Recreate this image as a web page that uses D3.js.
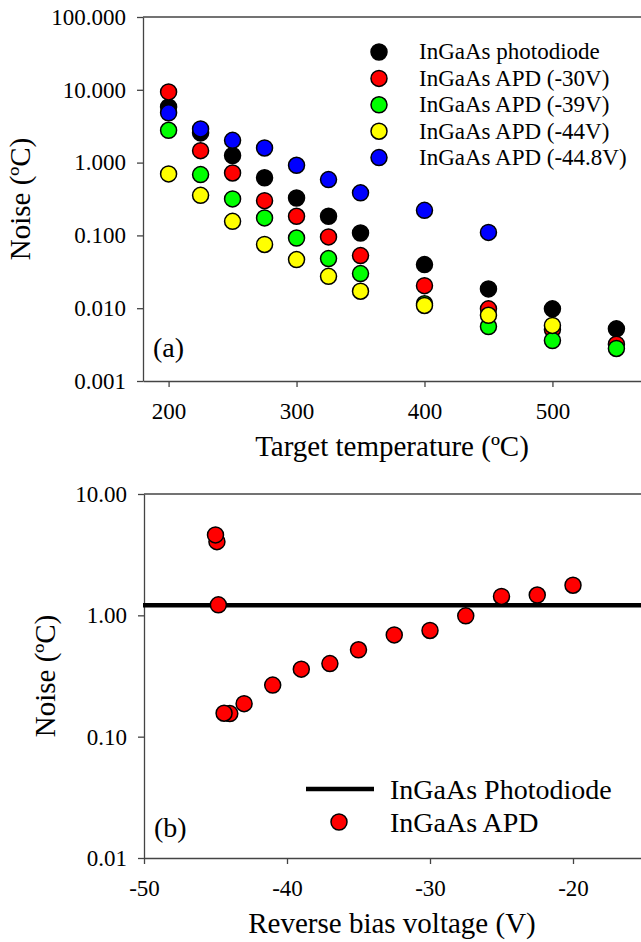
<!DOCTYPE html>
<html>
<head>
<meta charset="utf-8">
<script src="https://cdn.jsdelivr.net/npm/d3@7"></script>
<style>
  body { margin: 0; background: #fff; }
  svg text { font-family: "Liberation Serif", "Times New Roman", serif; fill: #000; }
</style>
</head>
<body>
<div id="container"></div>
<script>
/* DATA - panel (a) */
const temps = [200, 225, 250, 275, 300, 325, 350, 400, 450, 500, 550];
const photodiode = [5.8, 2.56, 1.25, 0.62, 0.327, 0.183, 0.108, 0.0397, 0.0184, 0.0098, 0.0052];
const apd30 = [9.36, 1.46, 0.72, 0.30, 0.183, 0.0953, 0.0528, 0.0204, 0.0098, 0.0051, 0.0032];
const apd39 = [2.78, 0.684, 0.317, 0.174, 0.092, 0.048, 0.0299, 0.0115, 0.0056, 0.0036, 0.0028];
const apd44 = [0.70, 0.355, 0.156, 0.075, 0.0465, 0.0274, 0.0171, 0.0109, 0.0080, 0.0058, null];
const apd448 = [4.82, 2.90, 2.02, 1.59, 0.918, 0.584, 0.384, 0.221, 0.110, null, null];
const seriesNames = ["InGaAs photodiode", "InGaAs APD (-30V)", "InGaAs APD (-39V)", "InGaAs APD (-44V)", "InGaAs APD (-44.8V)"];
const seriesColors = ["#000000", "#ff0000", "#00ff00", "#ffff00", "#0000ff"];
const tempTicks = [200, 300, 400, 500];
const noiseTicksA = [0.001, 0.01, 0.1, 1, 10, 100];

/* DATA - panel (b) */
const biasVoltage = [-20.0, -22.5, -25.0, -27.5, -30.0, -32.5, -35.0, -37.0, -39.0, -41.0, -43.0, -44.0, -44.4, -44.8, -44.9, -45.0];
const apdNoise = [1.77, 1.47, 1.43, 0.99, 0.75, 0.69, 0.52, 0.40, 0.36, 0.266, 0.187, 0.155, 0.156, 1.22, 4.05, 4.6];
const photodiodeLevel = 1.21;
const biasTicks = [-50, -40, -30, -20];
const noiseTicksB = [0.01, 0.1, 1, 10];
const legendB = ["InGaAs Photodiode", "InGaAs APD"];

/* CONSTANTS */
const W = 641, H = 942;
const R = 8;

const svg = d3.select("#container")
  .append("svg")
  .attr("width", W)
  .attr("height", H);

/* ---------- PANEL (a) ---------- */
const xA = d3.scaleLinear().domain([180, 570]).range([143, 642]);
const yA = d3.scaleLog().domain([0.001, 100]).range([381, 17]);

// frame top line
svg.append("line")
  .attr("x1", xA.range()[0]).attr("x2", W)
  .attr("y1", yA(100)).attr("y2", yA(100))
  .attr("stroke", "#444").attr("stroke-width", 1.3);

svg.append("g")
  .attr("transform", "translate(0," + yA(0.001) + ")")
  .call(d3.axisBottom(xA).tickValues(tempTicks).tickFormat(String).tickSize(6).tickSizeOuter(0).tickPadding(16));

svg.append("g")
  .attr("transform", "translate(" + xA(180) + ",0)")
  .call(d3.axisLeft(yA).tickValues(noiseTicksA).tickFormat(d3.format(".3f")).tickSize(6).tickSizeOuter(0).tickPadding(11));

const allSeries = [photodiode, apd30, apd39, apd44, apd448];
allSeries.forEach((vals, i) => {
  const pts = temps.map((t, j) => ({t: t, v: vals[j]})).filter(d => d.v != null);
  svg.append("g")
    .selectAll("circle")
    .data(pts)
    .enter()
    .append("circle")
    .attr("cx", d => xA(d.t))
    .attr("cy", d => yA(d.v))
    .attr("r", R)
    .attr("fill", seriesColors[i])
    .attr("stroke", "#000")
    .attr("stroke-width", 1.5);
});

// legend (a)
const legA = svg.append("g");
seriesNames.forEach((name, i) => {
  const cy = 52 + i * 26.4;
  legA.append("circle")
    .attr("cx", 379).attr("cy", cy).attr("r", R)
    .attr("fill", seriesColors[i]).attr("stroke", "#000").attr("stroke-width", 1.5);
  legA.append("text")
    .attr("x", 419).attr("y", cy).attr("dy", "0.32em")
    .style("font-size", "23px")
    .text(name);
});

svg.append("text")
  .attr("x", 153).attr("y", 357)
  .style("font-size", "28px")
  .text("(a)");

svg.append("text")
  .attr("x", 392).attr("y", 456)
  .attr("text-anchor", "middle")
  .style("font-size", "29px")
  .text("Target temperature (\u00baC)");

svg.append("text")
  .attr("transform", "translate(30," + ((yA(100) + yA(0.001)) / 2) + ") rotate(-90)")
  .attr("text-anchor", "middle")
  .style("font-size", "29px")
  .text("Noise (\u00baC)");

/* ---------- PANEL (b) ---------- */
const xB = d3.scaleLinear().domain([-50, -15]).range([144, 644.5]);
const yB = d3.scaleLog().domain([0.01, 10]).range([858, 494]);

svg.append("line")
  .attr("x1", xB(-50)).attr("x2", W)
  .attr("y1", yB(10)).attr("y2", yB(10))
  .attr("stroke", "#444").attr("stroke-width", 1.3);

svg.append("g")
  .attr("transform", "translate(0," + yB(0.01) + ")")
  .call(d3.axisBottom(xB).tickValues(biasTicks).tickFormat(String).tickSize(6).tickSizeOuter(0).tickPadding(16));

svg.append("g")
  .attr("transform", "translate(" + xB(-50) + ",0)")
  .call(d3.axisLeft(yB).tickValues(noiseTicksB).tickFormat(d3.format(".2f")).tickSize(6).tickSizeOuter(0).tickPadding(11));

// photodiode reference line
svg.append("line")
  .attr("x1", xB(-50) - 1).attr("x2", W)
  .attr("y1", yB(photodiodeLevel)).attr("y2", yB(photodiodeLevel))
  .attr("stroke", "#000").attr("stroke-width", 4.5);

svg.append("g")
  .selectAll("circle")
  .data(biasVoltage.map((v, i) => ({v: v, n: apdNoise[i]})))
  .enter()
  .append("circle")
  .attr("cx", d => xB(d.v))
  .attr("cy", d => yB(d.n))
  .attr("r", R)
  .attr("fill", "#ff0000")
  .attr("stroke", "#000")
  .attr("stroke-width", 1.5);

// legend (b)
const legB = svg.append("g");
legB.append("line")
  .attr("x1", 306).attr("x2", 374).attr("y1", 789).attr("y2", 789)
  .attr("stroke", "#000").attr("stroke-width", 4.5);
legB.append("circle")
  .attr("cx", 339).attr("cy", 822).attr("r", R)
  .attr("fill", "#ff0000").attr("stroke", "#000").attr("stroke-width", 1.5);
legendB.forEach((name, i) => {
  legB.append("text")
    .attr("x", 390).attr("y", 789 + i * 33).attr("dy", "0.35em")
    .style("font-size", "28px")
    .text(name);
});

svg.append("text")
  .attr("x", 154).attr("y", 837)
  .style("font-size", "28px")
  .text("(b)");

svg.append("text")
  .attr("x", 392).attr("y", 933)
  .attr("text-anchor", "middle")
  .style("font-size", "29px")
  .text("Reverse bias voltage (V)");

svg.append("text")
  .attr("transform", "translate(55," + ((yB(10) + yB(0.01)) / 2) + ") rotate(-90)")
  .attr("text-anchor", "middle")
  .style("font-size", "29px")
  .text("Noise (\u00baC)");

/* axis styling */
svg.selectAll(".domain, .tick line").attr("stroke", "#444").attr("stroke-width", 1.3);
svg.selectAll(".tick text")
  .style("font-size", "23px")
  .style("font-family", "'Liberation Serif', 'Times New Roman', serif")
  .attr("fill", "#000");
</script>
</body>
</html>
